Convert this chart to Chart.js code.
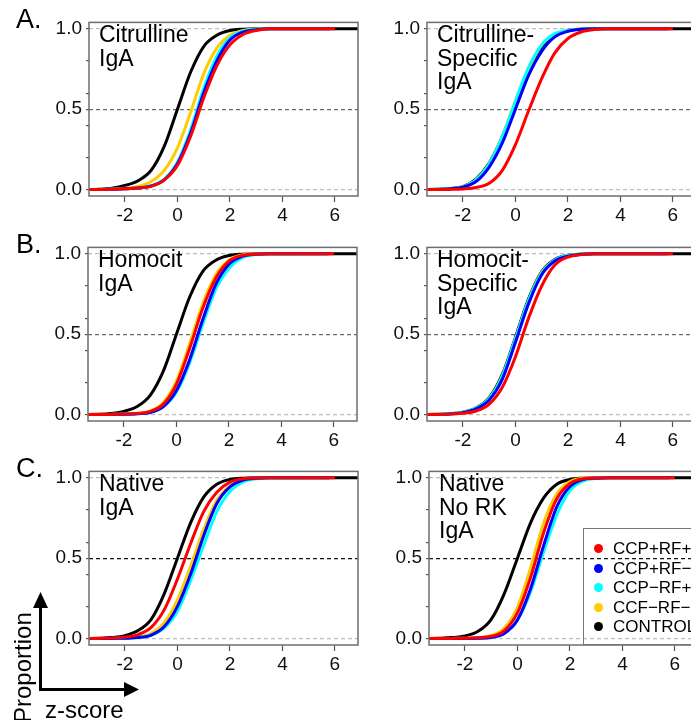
<!DOCTYPE html>
<html>
<head>
<meta charset="utf-8">
<script src="https://cdn.jsdelivr.net/npm/chart.js@4.4.1/dist/chart.umd.min.js"></script>
<style>
  html, body { margin: 0; padding: 0; background: #fff; }
  body { width: 691px; height: 720px; overflow: hidden; position: relative;
         font-family: "Liberation Sans", Arial, Helvetica, sans-serif; color: #000; }
  canvas { position: absolute; }
  .title { position: absolute; font-size: 23px; line-height: 23.5px; white-space: nowrap; }
  .letter { position: absolute; font-size: 27px; line-height: 27px; }
  .legend { position: absolute; left: 583px; top: 528px; width: 120px; height: 117px;
            border: 1.5px solid #777; box-sizing: border-box; }
  .legend div { position: absolute; left: 29px; font-size: 17px; line-height: 19px; white-space: nowrap; }
  .legend span { position: absolute; left: -19px; top: 5px; width: 9px; height: 9px; border-radius: 50%; }
</style>
</head>
<body>

<script>
// z-score grid shared by all curves
const zGrid = [-3.5, -3, -2.5, -2, -1.5, -1, -0.5, 0, 0.5, 1, 1.5, 2, 2.5, 3, 3.5];

const seriesNames = ['CCP+RF+', 'CCP+RF\u2212', 'CCP\u2212RF+', 'CCF\u2212RF\u2212', 'CONTROL'];
const seriesColors = ['#ff0000', '#0000ff', '#00ffff', '#ffcc00', '#000000'];
// largest z-score reached by each group
const seriesLastZ = [6.0, 5.8, 5.7, 5.5, 7.2];

const xTicks = [-2, 0, 2, 4, 6];
const yTicks = [0, 0.2, 0.4, 0.5, 0.6, 0.8, 1];
const yLabels = [0, 0.5, 1];

// A. Citrulline IgA
const citIgA_red    = [0, 0, 0.002, 0.005, 0.01, 0.02, 0.06, 0.15, 0.33, 0.57, 0.77, 0.90, 0.965, 0.99, 1];
const citIgA_blue   = [0, 0, 0.002, 0.005, 0.01, 0.022, 0.06, 0.16, 0.35, 0.60, 0.80, 0.93, 0.98, 0.995, 1];
const citIgA_cyan   = [0, 0, 0.002, 0.005, 0.01, 0.024, 0.065, 0.17, 0.37, 0.63, 0.83, 0.945, 0.985, 0.998, 1];
const citIgA_yellow = [0, 0, 0.003, 0.008, 0.02, 0.05, 0.12, 0.26, 0.48, 0.72, 0.88, 0.96, 0.99, 0.998, 1];
const citIgA_black  = [0, 0.002, 0.008, 0.025, 0.055, 0.12, 0.27, 0.50, 0.73, 0.89, 0.96, 0.99, 0.998, 1, 1];

// A. Citrulline-Specific IgA
const citSpec_red    = [0, 0, 0.001, 0.004, 0.013, 0.04, 0.12, 0.28, 0.49, 0.69, 0.85, 0.94, 0.98, 0.995, 1];
const citSpec_blue   = [0, 0.001, 0.005, 0.015, 0.05, 0.14, 0.29, 0.50, 0.71, 0.86, 0.95, 0.985, 0.997, 1, 1];
const citSpec_cyan   = [0, 0.002, 0.006, 0.017, 0.06, 0.16, 0.33, 0.55, 0.76, 0.90, 0.97, 0.99, 0.998, 1, 1];
const citSpec_yellow = [0, 0.002, 0.006, 0.017, 0.06, 0.16, 0.33, 0.55, 0.75, 0.90, 0.965, 0.99, 0.998, 1, 1];
const citSpec_black  = [0, 0.002, 0.006, 0.018, 0.065, 0.165, 0.33, 0.54, 0.75, 0.89, 0.96, 0.99, 0.998, 1, 1];

// B. Homocit IgA
const homIgA_red    = [0, 0, 0.001, 0.003, 0.007, 0.02, 0.065, 0.19, 0.41, 0.66, 0.85, 0.955, 0.99, 0.998, 1];
const homIgA_blue   = [0, 0, 0.001, 0.002, 0.005, 0.013, 0.05, 0.15, 0.34, 0.59, 0.81, 0.935, 0.984, 0.997, 1];
const homIgA_cyan   = [0, 0, 0.001, 0.002, 0.005, 0.013, 0.048, 0.14, 0.32, 0.56, 0.78, 0.91, 0.976, 0.995, 0.999];
const homIgA_yellow = [0, 0, 0.001, 0.003, 0.008, 0.022, 0.075, 0.21, 0.44, 0.69, 0.87, 0.96, 0.993, 0.999, 1];
const homIgA_black  = [0, 0.002, 0.007, 0.02, 0.05, 0.12, 0.27, 0.50, 0.73, 0.89, 0.96, 0.99, 0.998, 1, 1];

// B. Homocit-Specific IgA
const homSpec_red    = [0, 0, 0.003, 0.008, 0.022, 0.065, 0.17, 0.36, 0.60, 0.80, 0.93, 0.98, 0.995, 1, 1];
const homSpec_blue   = [0, 0.001, 0.004, 0.012, 0.035, 0.09, 0.22, 0.45, 0.69, 0.87, 0.955, 0.985, 0.997, 1, 1];
const homSpec_cyan   = [0, 0.002, 0.006, 0.014, 0.04, 0.10, 0.24, 0.47, 0.71, 0.88, 0.96, 0.99, 0.997, 1, 1];
const homSpec_yellow = [0, 0.002, 0.006, 0.014, 0.039, 0.10, 0.24, 0.47, 0.71, 0.885, 0.96, 0.99, 0.997, 1, 1];
const homSpec_black  = [0, 0.002, 0.006, 0.015, 0.042, 0.105, 0.25, 0.48, 0.72, 0.89, 0.965, 0.99, 0.998, 1, 1];

// C. Native IgA
const natIgA_red    = [0, 0.001, 0.003, 0.009, 0.025, 0.07, 0.18, 0.37, 0.59, 0.79, 0.91, 0.973, 0.994, 0.999, 1];
const natIgA_blue   = [0, 0, 0.001, 0.002, 0.006, 0.022, 0.075, 0.20, 0.40, 0.64, 0.84, 0.944, 0.986, 0.997, 1];
const natIgA_cyan   = [0, 0, 0.001, 0.002, 0.006, 0.02, 0.066, 0.17, 0.36, 0.58, 0.79, 0.915, 0.975, 0.994, 0.999];
const natIgA_yellow = [0, 0, 0.001, 0.003, 0.01, 0.032, 0.10, 0.24, 0.45, 0.68, 0.86, 0.95, 0.988, 0.998, 1];
const natIgA_black  = [0, 0.002, 0.006, 0.018, 0.05, 0.12, 0.28, 0.50, 0.72, 0.88, 0.96, 0.99, 0.998, 1, 1];

// C. Native No RK IgA
const natNoRK_red    = [0, 0, 0.001, 0.002, 0.005, 0.014, 0.05, 0.16, 0.38, 0.66, 0.87, 0.965, 0.994, 0.999, 1];
const natNoRK_blue   = [0, 0, 0.001, 0.001, 0.002, 0.007, 0.032, 0.115, 0.31, 0.58, 0.82, 0.946, 0.99, 0.998, 1];
const natNoRK_cyan   = [0, 0, 0.001, 0.001, 0.003, 0.009, 0.035, 0.115, 0.29, 0.54, 0.77, 0.92, 0.98, 0.997, 1];
const natNoRK_yellow = [0, 0, 0.001, 0.002, 0.006, 0.018, 0.065, 0.195, 0.44, 0.72, 0.90, 0.977, 0.997, 1, 1];
const natNoRK_black  = [0, 0.002, 0.006, 0.016, 0.045, 0.12, 0.28, 0.50, 0.72, 0.875, 0.96, 0.99, 0.998, 1, 1];

const panels = [
  { title: ['Citrulline', 'IgA'], left: 89, top: 17, midLine: '#6a6a6a',
    series: [citIgA_red, citIgA_blue, citIgA_cyan, citIgA_yellow, citIgA_black] },
  { title: ['Citrulline-', 'Specific', 'IgA'], left: 427, top: 17, midLine: '#6a6a6a',
    series: [citSpec_red, citSpec_blue, citSpec_cyan, citSpec_yellow, citSpec_black] },
  { title: ['Homocit', 'IgA'], left: 88, top: 242, midLine: '#6a6a6a',
    series: [homIgA_red, homIgA_blue, homIgA_cyan, homIgA_yellow, homIgA_black] },
  { title: ['Homocit-', 'Specific', 'IgA'], left: 427, top: 242, midLine: '#6a6a6a',
    series: [homSpec_red, homSpec_blue, homSpec_cyan, homSpec_yellow, homSpec_black] },
  { title: ['Native', 'IgA'], left: 89, top: 466, midLine: '#111',
    series: [natIgA_red, natIgA_blue, natIgA_cyan, natIgA_yellow, natIgA_black] },
  { title: ['Native', 'No RK', 'IgA'], left: 429, top: 466, midLine: '#111',
    series: [natNoRK_red, natNoRK_blue, natNoRK_cyan, natNoRK_yellow, natNoRK_black] }
];

const letters = [['A.', 6], ['B.', 231], ['C.', 455]];

const FONT = '"Liberation Sans", Arial, Helvetica, sans-serif';
const AXIS_W = 60, PAD_TOP = 10, PAD_RIGHT = 11, FRAME_W = 269, FRAME_H = 179, XAXIS_H = 36;

// box around the plotting region
const framePlugin = {
  id: 'frame',
  afterDraw(chart) {
    const a = chart.chartArea, ctx = chart.ctx;
    ctx.save();
    ctx.strokeStyle = '#6e6e6e';
    ctx.lineWidth = 1.5;
    ctx.strokeRect(a.left, a.top, a.right - a.left, a.bottom - a.top);
    ctx.restore();
  }
};

function makePanel(p) {
  const cv = document.createElement('canvas');
  const w = AXIS_W + FRAME_W + PAD_RIGHT, h = PAD_TOP + FRAME_H + XAXIS_H;
  cv.width = w; cv.height = h;
  cv.style.left = (p.left - AXIS_W) + 'px';
  cv.style.top = (p.top - PAD_TOP) + 'px';
  document.body.appendChild(cv);

  const datasets = p.series.map((vals, k) => ({
    label: seriesNames[k],
    data: zGrid.map((z, i) => ({ x: z, y: vals[i] })).concat([{ x: seriesLastZ[k], y: 1 }]),
    borderColor: seriesColors[k],
    borderWidth: 3,
    pointRadius: 0,
    fill: false,
    cubicInterpolationMode: 'monotone'
  }));

  new Chart(cv.getContext('2d'), {
    type: 'line',
    data: { datasets },
    options: {
      responsive: false,
      animation: false,
      devicePixelRatio: 1,
      layout: { padding: { top: PAD_TOP, right: PAD_RIGHT, left: 0, bottom: 0 } },
      plugins: { legend: { display: false }, tooltip: { enabled: false } },
      scales: {
        x: {
          type: 'linear', min: -3.37, max: 6.88,
          afterBuildTicks: s => { s.ticks = xTicks.map(v => ({ value: v })); },
          afterFit: s => { s.height = XAXIS_H; },
          grid: { drawOnChartArea: false, color: 'rgba(0,0,0,0)', tickColor: '#555', tickLength: 6, tickWidth: 1.2 },
          border: { display: false },
          ticks: { autoSkip: false, maxRotation: 0, padding: 2, color: '#111',
                   font: { family: FONT, size: 19 }, callback: v => String(v) }
        },
        y: {
          type: 'linear', min: -0.04, max: 1.04,
          afterBuildTicks: s => { s.ticks = yTicks.map(v => ({ value: v })); },
          afterFit: s => { s.width = AXIS_W; },
          grid: {
            color: c => {
              const v = c.tick ? c.tick.value : null;
              if (v === 0.5) return p.midLine;
              if (v === 0 || v === 1) return '#bdbdbd';
              return 'rgba(0,0,0,0)';
            },
            lineWidth: 1.2, tickColor: '#555', tickLength: 3, tickBorderDash: []
          },
          border: { display: false, dash: [4, 3] },
          ticks: { autoSkip: false, padding: 4, color: '#111',
                   font: { family: FONT, size: 19 },
                   callback: v => yLabels.includes(v) ? v.toFixed(1) : '' }
        }
      }
    },
    plugins: [framePlugin]
  });

  const t = document.createElement('div');
  t.className = 'title';
  t.style.left = (p.left + 10) + 'px';
  t.style.top = (p.top + 6) + 'px';
  t.innerHTML = p.title.join('<br>');
  document.body.appendChild(t);
}

panels.forEach(makePanel);

letters.forEach(([txt, top]) => {
  const d = document.createElement('div');
  d.className = 'letter';
  d.style.left = '16px';
  d.style.top = top + 'px';
  d.textContent = txt;
  document.body.appendChild(d);
});

// legend of the last panel
const lg = document.createElement('div');
lg.className = 'legend';
seriesNames.forEach((name, k) => {
  const row = document.createElement('div');
  row.style.top = (10 + k * 19.5) + 'px';
  row.innerHTML = '<span style="background:' + seriesColors[k] + '"></span>' + name;
  lg.appendChild(row);
});
document.body.appendChild(lg);
</script>

<svg style="position:absolute;left:0;top:0" width="691" height="720">
  <line x1="40.5" y1="689" x2="40.5" y2="604" stroke="#000" stroke-width="3"/>
  <polygon points="40.5,592 33,608 48,608" fill="#000"/>
  <line x1="39" y1="689.5" x2="126" y2="689.5" stroke="#000" stroke-width="3"/>
  <polygon points="139,689.5 124,682 124,697" fill="#000"/>
</svg>
<div style="position:absolute;left:11px;top:723px;transform:rotate(-90deg);transform-origin:0 0;font-size:24px;line-height:24px;white-space:nowrap;">Proportion</div>
<div style="position:absolute;left:45px;top:698px;font-size:24px;line-height:24px;white-space:nowrap;">z-score</div>

</body>
</html>
